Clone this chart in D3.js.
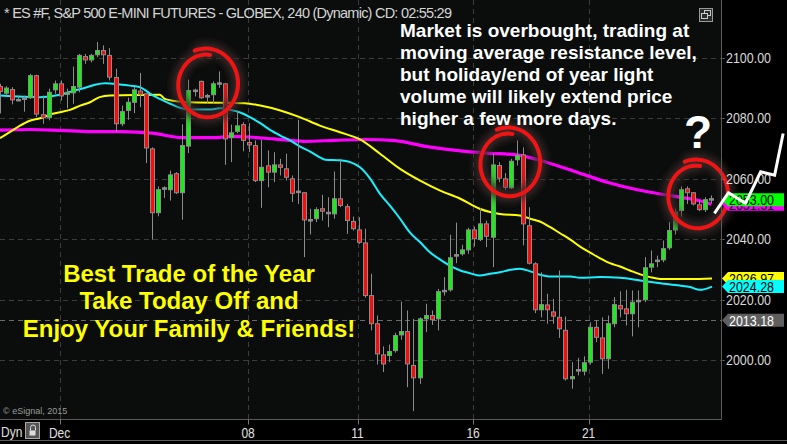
<!DOCTYPE html>
<html><head><meta charset="utf-8">
<script src="https://cdn.jsdelivr.net/npm/d3@7/dist/d3.min.js"></script>
<style>body{margin:0;background:#000;overflow:hidden}svg{display:block}</style>
</head><body><svg id="c" width="787" height="444"></svg>
<script>
// ---------- data ----------
const opens  = [2090.4,2088.2,2089.4,2085.8,2086.3,2086.7,2094.0,2081.1,2080.1,2089.3,2091.3,2087.8,2088.3,2090.2,2100.3,2099.2,2100.9,2102.3,2100.7,2093.4,
2078.1,2082.5,2085.2,2088.9,2088.0,2069.8,2048.7,2056.6,2056.3,2061.6,2055.3,2070.7,2088.9,2092.1,2087.1,2087.7,2091.3,2091.3,2073.5,2075.6,
2077.8,2071.9,2070.9,2059.3,2064.2,2062.1,2064.5,2063.2,2059.9,2055.5,2055.3,2046.1,2046.7,2050.0,2048.5,2048.3,2053.3,2050.7,2045.8,2043.0,
2038.7,2021.3,2012.0,2001.7,2001.5,2003.1,2008.3,2009.4,1998.2,1994.1,2013.6,2014.7,2013.6,2022.7,2023.2,2034.5,2035.1,2036.4,2043.0,2039.8,
2045.0,2040.6,2064.3,2059.9,2056.9,2066.2,2067.8,2044.4,2031.8,2016.6,2018.2,2015.9,2014.1,2009.8,1993.8,1996.5,1996.3,1999.3,2010.8,2007.3,
2000.4,2012.0,2018.0,2016.9,2015.3,2019.4,2019.9,2030.7,2032.7,2033.1,2037.1,2043.0,2049.4,2056.6,2055.3,2051.3,2049.7,2052.75];
const highs  = [2091.3,2090.5,2090.2,2087.4,2087.4,2094.6,2094.3,2087.4,2089.7,2092.4,2092.4,2089.7,2097.0,2101.2,2101.2,2101.2,2105.1,2104.0,2103.1,2096.3,
2084.1,2086.7,2090.2,2094.9,2088.0,2070.3,2057.4,2057.4,2062.6,2062.1,2077.9,2092.7,2089.7,2092.4,2088.0,2092.1,2095.4,2091.6,2077.8,2082.5,
2078.6,2078.3,2072.6,2072.8,2069.3,2068.7,2066.5,2068.2,2061.0,2079.4,2055.5,2050.0,2050.5,2054.6,2053.8,2062.3,2066.5,2051.6,2047.4,2047.2,
2043.4,2028.5,2014.7,2004.5,2005.1,2009.0,2019.3,2016.4,2013.6,2014.1,2018.6,2016.4,2023.5,2027.4,2041.4,2045.4,2038.1,2043.7,2044.1,2050.2,
2046.1,2068.2,2065.4,2061.8,2066.5,2072.6,2070.3,2050.5,2032.3,2029.0,2021.9,2020.2,2029.6,2014.4,1999.3,2000.7,2001.2,2012.5,2013.1,2014.1,
2014.7,2020.8,2022.7,2023.2,2023.0,2023.0,2034.0,2036.2,2034.5,2039.5,2045.6,2050.0,2057.4,2057.4,2055.5,2052.7,2053.8,2054.4];
const lows   = [2081.5,2087.4,2084.5,2085.6,2082.1,2086.3,2080.3,2078.1,2079.2,2088.0,2085.8,2083.2,2084.7,2088.5,2097.9,2098.4,2100.1,2097.9,2092.4,2075.3,
2077.3,2079.4,2081.6,2083.6,2065.1,2039.8,2047.5,2053.6,2052.7,2054.9,2046.4,2068.4,2087.1,2086.3,2084.9,2084.7,2090.0,2064.5,2065.4,2075.0,
2069.0,2068.7,2058.8,2050.3,2057.1,2058.8,2061.0,2059.3,2052.2,2051.6,2034.0,2041.5,2045.6,2046.1,2043.9,2046.7,2050.5,2041.7,2042.8,2038.4,
2020.6,2009.8,1998.5,1996.0,1999.3,2002.4,2006.7,1991.0,1983.1,1992.1,2009.2,2011.6,2009.8,2021.3,2022.6,2032.0,2034.5,2035.1,2037.5,2039.3,
2037.3,2030.7,2058.8,2056.3,2056.6,2064.3,2037.9,2031.6,2015.5,2014.1,2012.0,2012.0,2007.3,1993.2,1990.5,1994.9,1994.9,1998.5,2005.9,1995.4,
1997.1,2010.8,2014.1,2011.4,2007.8,2010.8,2019.1,2029.0,2030.7,2032.3,2036.4,2041.5,2047.4,2051.6,2051.1,2049.2,2048.9,2051.8];
const closes = [2088.8,2089.9,2086.0,2085.8,2086.3,2094.0,2081.3,2080.1,2088.5,2091.3,2087.3,2088.5,2090.4,2100.7,2099.2,2100.7,2102.3,2100.9,2093.5,2078.1,
2082.1,2085.2,2089.3,2087.8,2070.1,2048.7,2056.3,2056.6,2061.2,2055.3,2070.9,2089.1,2088.9,2086.7,2087.1,2091.3,2091.3,2073.1,2075.1,2077.4,
2072.6,2071.1,2059.3,2063.7,2062.1,2064.5,2063.7,2060.4,2055.1,2055.5,2046.3,2046.1,2049.7,2049.2,2048.5,2053.3,2051.1,2046.1,2043.4,2038.9,
2021.3,2012.0,2002.0,1998.7,2002.8,2008.1,2009.4,1998.7,1994.1,2013.6,2014.7,2013.3,2022.6,2022.7,2033.8,2034.5,2036.4,2043.0,2040.1,2045.0,
2040.9,2064.5,2060.1,2057.1,2065.7,2067.6,2045.0,2032.0,2016.6,2018.3,2016.6,2014.5,2010.3,1993.8,1994.5,1996.5,1999.1,2010.8,2007.5,2000.4,
2012.0,2018.3,2016.9,2015.3,2019.1,2019.4,2030.5,2031.8,2032.7,2036.8,2042.8,2048.9,2056.3,2055.3,2051.6,2049.7,2053.0,2053.0];

// moving averages: [bar, price]
const magentaMA = [[0,2076.0],[5,2076.2],[10,2075.9],[15,2075.5],[20,2075.5],[25,2075.0],[30,2073.5],[35,2073.5],[38,2073.9],[40,2073.8],[45,2073.1],[50,2072.3],[55,2072.6],[60,2072.9],[65,2072.5],[70,2070.6],[75,2069.3],[80,2068.4],[85,2067.8],[90,2065.3],[95,2062.0],[100,2058.7],[105,2056.2],[110,2054.4],[115,2052.7],[117,2051.5]];
const yellowMA = [[0,2073.3],[1.6,2075.3],[3.3,2077.5],[4.9,2079.1],[6.6,2079.9],[8.2,2081.1],[9.9,2081.9],[11.5,2082.7],[13.2,2084.1],[14.8,2085.2],[16.4,2086.9],[18.1,2087.4],[26.3,2087.7],[27.1,2086.3],[28.8,2085.6],[31.3,2085.2],[40.3,2084.9],[42.8,2084.1],[46.1,2082.5],[49.3,2080.3],[52.6,2077.5],[55.9,2075.3],[59.2,2072.9],[62.5,2068.2],[65.8,2063.2],[69.1,2059.3],[72.4,2056.0],[75.7,2053.3],[78.9,2050.0],[80.6,2048.9],[82.2,2048.3],[85.5,2047.8],[87.2,2046.7],[88.8,2045.8],[90.5,2043.9],[92.1,2041.9],[93.8,2039.8],[95.4,2037.5],[97.0,2035.6],[98.7,2033.6],[100.3,2032.0],[102.0,2030.9],[103.6,2029.6],[105.3,2028.3],[106.9,2027.4],[108.6,2026.8],[113.5,2026.8],[117.1,2026.97]];
const cyanMA = [[0,2087.4],[6.6,2086.9],[9.9,2087.7],[12.3,2089.1],[14.0,2090.0],[15.6,2091.0],[17.3,2091.5],[19.7,2091.1],[21.4,2090.7],[23.0,2090.2],[23.8,2089.3],[24.7,2088.0],[26.3,2086.3],[28.0,2084.7],[29.6,2083.4],[31.3,2082.8],[34.5,2082.8],[36.2,2083.2],[37.8,2082.7],[39.5,2081.8],[41.1,2080.3],[42.8,2078.3],[44.4,2076.1],[46.1,2074.2],[47.7,2072.6],[49.3,2070.6],[51.0,2068.9],[52.6,2067.0],[53.5,2066.2],[55.9,2066.0],[57.6,2065.4],[59.2,2063.7],[60.9,2059.9],[62.5,2054.9],[64.1,2051.1],[65.8,2046.7],[67.4,2042.2],[69.1,2038.9],[70.7,2035.6],[72.4,2033.2],[74.0,2031.2],[75.7,2029.6],[77.3,2028.7],[78.9,2027.9],[80.6,2028.5],[82.2,2029.0],[83.9,2029.8],[85.5,2030.2],[87.2,2029.3],[88.8,2028.2],[90.5,2027.6],[93.8,2027.6],[95.4,2027.2],[98.7,2027.4],[102.0,2027.2],[105.3,2026.3],[108.6,2025.4],[111.8,2024.6],[113.5,2024.1],[115.1,2023.2],[117.1,2024.28]];

const priceTicks = [2000,2020,2040,2060,2080,2100];
const dayStartBars = [10,41,59,78,97];
const dayLabels = ["Dec","08","11","16","21"];
const refLine = 2013.18;
const tagValues = [2051.51,2053.00,2026.97,2024.28,2013.18];
const tagColors = ["#ff00ff","#00ff00","#ffff00","#00ffff","#5f5f5f"];
const tagText   = ["#000","#000","#000","#000","#fff"];
const title = "* ES #F, S&P 500 E-MINI FUTURES - GLOBEX, 240 (Dynamic) CD: 02:55:29";
const noteLines = ["Market is overbought, trading at","moving average resistance level,","but holiday/end of year light","volume will likely extend price","higher a few more days."];
const bestLines = ["Best Trade of the Year","Take Today Off and","Enjoy Your Family & Friends!"];
// hand-drawn circles: [centre bar, centre price]
const circleCentres = [[34.0,2091.1],[83.7,2065.0],[114.6,2054.4]];
// hand-drawn forecast arrow: [bar, price]
const arrowPts = [[117.5,2048.5],[119.8,2055.3],[122.6,2051.8],[125.1,2062.2],[127.4,2061.1],[128.8,2074.9]];

// ---------- layout ----------
const W = 787, H = 444, plotR = 721.5, plotB = 419.5;
const svg = d3.select("#c");
const x = d3.scaleLinear().domain([0,117]).range([0,711.4]);
const y = d3.scaleLinear().domain([2000,2100]).range([360,57.5]);
function narrow(sel, k){ sel.each(function(){ const L=this.getComputedTextLength(); d3.select(this).attr("textLength",L*k).attr("lengthAdjust","spacingAndGlyphs"); }); }

svg.append("rect").attr("width",W).attr("height",H).attr("fill","#000");
svg.append("rect").attr("width",plotR).attr("height",plotB).attr("fill","#0a0d0b");

const defs = svg.append("defs");
defs.append("clipPath").attr("id","clip").append("rect").attr("width",plotR).attr("height",plotB);
const f = defs.append("filter").attr("id","glow").attr("x","-50%").attr("y","-50%").attr("width","200%").attr("height","200%");
f.append("feGaussianBlur").attr("stdDeviation",4);

const plot = svg.append("g").attr("clip-path","url(#clip)");

// grid
plot.selectAll(".hg").data(priceTicks).join("line")
  .attr("x1",0).attr("x2",plotR).attr("y1",d=>Math.round(y(d))+0.5).attr("y2",d=>Math.round(y(d))+0.5)
  .attr("stroke","#3c3c3c").attr("stroke-dasharray","5,4");
plot.selectAll(".vg").data(dayStartBars).join("line")
  .attr("y1",0).attr("y2",plotB).attr("x1",d=>Math.round(x(d-0.2))+0.5).attr("x2",d=>Math.round(x(d-0.2))+0.5)
  .attr("stroke","#3c3c3c").attr("stroke-dasharray","5,4");
plot.append("line").attr("x1",0).attr("x2",plotR).attr("y1",Math.round(y(refLine))+0.5).attr("y2",Math.round(y(refLine))+0.5)
  .attr("stroke","#6a6a6a").attr("stroke-dasharray","5,4");

// moving averages
const ln = d3.line().x(d=>x(d[0])).y(d=>y(d[1])).curve(d3.curveMonotoneX);
plot.append("path").attr("d",ln(magentaMA)).attr("fill","none").attr("stroke","#ff00ff").attr("stroke-width",3.2);
plot.append("path").attr("d",ln(yellowMA)).attr("fill","none").attr("stroke","#ffff00").attr("stroke-width",2);
plot.append("path").attr("d",ln(cyanMA)).attr("fill","none").attr("stroke","#19f0ff").attr("stroke-width",2);

// candles
const bars = opens.map((o,i)=>({i,o,h:highs[i],l:lows[i],c:closes[i]}));
const cg = plot.selectAll(".cd").data(bars).join("g");
cg.append("line").attr("x1",d=>Math.round(x(d.i))+0.5).attr("x2",d=>Math.round(x(d.i))+0.5)
  .attr("y1",d=>y(d.h)).attr("y2",d=>y(d.l)).attr("stroke","#8c8c8c").attr("stroke-width",1);
cg.append("rect")
  .attr("x",d=>Math.round(x(d.i))-1.5).attr("width",4)
  .attr("y",d=>Math.abs(d.c-d.o)<0.3 ? y(d.c)-1 : y(Math.max(d.o,d.c)))
  .attr("height",d=>Math.abs(d.c-d.o)<0.3 ? 1.5 : Math.max(1.5, y(Math.min(d.o,d.c))-y(Math.max(d.o,d.c))))
  .attr("fill",d=>Math.abs(d.c-d.o)<0.3 ? "#8c8c8c" : (d.c>d.o ? "#14f014" : "#f80c0c"))
  .attr("stroke","#8c8c8c").attr("stroke-width",1);

// hand drawn circles
function spiral(cx, cy){
  const pts=[]; const rx=30, ry=33;
  const a0=-Math.PI*0.62, a1=a0+Math.PI*2*1.08;
  for(let k=0;k<=80;k++){
    const t=k/80, a=a0+(a1-a0)*t, s=1.1-0.2*t;
    pts.push([cx+rx*s*Math.cos(a), cy+ry*s*Math.sin(a)]);
  }
  return d3.line().curve(d3.curveBasis)(pts);
}
const circ = svg.append("g");
circleCentres.forEach(cc=>{
  const dpath = spiral(x(cc[0]), y(cc[1]));
  circ.append("path").attr("d",dpath).attr("fill","none").attr("stroke","#3a2a2a").attr("stroke-width",11).attr("filter","url(#glow)");
  circ.append("path").attr("d",dpath).attr("fill","none").attr("stroke","#f01414").attr("stroke-width",4).attr("stroke-linecap","round");
});

// frame
svg.append("line").attr("x1",plotR).attr("x2",plotR).attr("y1",0).attr("y2",plotB).attr("stroke","#5a5a5a");
svg.append("line").attr("x1",0).attr("x2",plotR).attr("y1",plotB).attr("y2",plotB).attr("stroke","#5a5a5a");
svg.append("line").attr("x1",0).attr("x2",W).attr("y1",440.5).attr("y2",440.5).attr("stroke","#5a5a5a");

// right axis
const ax = svg.append("g").attr("font-family","'Liberation Sans',Arial,sans-serif").attr("font-size",15);
ax.selectAll(".gd").data(priceTicks).join("line")
  .attr("x1",plotR+1).attr("x2",726).attr("y1",d=>Math.round(y(d))+0.5).attr("y2",d=>Math.round(y(d))+0.5).attr("stroke","#777").attr("stroke-dasharray","2,2");
ax.selectAll(".tl").data(priceTicks).join("text")
  .attr("x",726).attr("y",d=>y(d)).attr("dy","0.36em").attr("fill","#d9d9d9").text(d=>d.toFixed(2))
  .call(narrow,0.83);
// price tags
tagValues.forEach((v,k)=>{
  const cy=y(v), h=13;
  ax.append("path").attr("d",`M722,${cy} L728,${cy-h/2} L784,${cy-h/2} L784,${cy+h/2} L728,${cy+h/2} Z`).attr("fill",tagColors[k]);
  ax.append("text").attr("x",729).attr("y",cy).attr("dy","0.36em").attr("fill",tagText[k]).text(v.toFixed(2)).call(narrow,0.83);
});

// bottom axis
const bx = svg.append("g").attr("font-family","'Liberation Sans',Arial,sans-serif").attr("font-size",15);
bx.selectAll(".bt").data(dayStartBars).join("line")
  .attr("x1",d=>Math.round(x(d-0.2))+0.5).attr("x2",d=>Math.round(x(d-0.2))+0.5).attr("y1",plotB).attr("y2",plotB+5).attr("stroke","#777");
bx.selectAll(".bl").data(dayStartBars).join("text")
  .attr("x",(d,k)=>x(d-0.2)).attr("y",438).attr("text-anchor","middle").attr("fill","#e0e0e0").text((d,k)=>dayLabels[k])
  .call(narrow,0.8);
bx.append("text").attr("x",1).attr("y",437).attr("fill","#e0e0e0").text("Dyn").call(narrow,0.8);
bx.append("rect").attr("x",25.5).attr("y",422.5).attr("width",14).attr("height",16).attr("fill","#555").attr("stroke","#aaa");
bx.append("rect").attr("x",29.5).attr("y",430.5).attr("width",6).attr("height",5).attr("fill","#ddd");
bx.append("path").attr("d","M30.5,430.5 v-3 a2.5,2.5 0 0 1 5,0 v3").attr("fill","none").attr("stroke","#ddd");

svg.append("text").attr("x",3).attr("y",414).attr("font-family","'Liberation Sans',sans-serif").attr("font-size",9).attr("fill","#9a9a9a").text("© eSignal, 2015");

// title & icon
svg.append("text").attr("x",4).attr("y",18).attr("font-family","'Liberation Sans',Arial,sans-serif").attr("font-size",14.5)
  .attr("fill","#d5d5d5").attr("textLength",448).attr("lengthAdjust","spacing").text(title);
svg.append("rect").attr("x",699.5).attr("y",8.5).attr("width",13).attr("height",13).attr("fill","#2a2a2a").attr("stroke","#999");
svg.append("rect").attr("x",704.5).attr("y",10.5).attr("width",6).attr("height",5).attr("fill","none").attr("stroke","#ccc");
svg.append("rect").attr("x",701.5).attr("y",13.5).attr("width",6).attr("height",5).attr("fill","#2a2a2a").attr("stroke","#ccc");

// annotation texts
svg.append("g").attr("font-family","'Liberation Sans',Arial,sans-serif").attr("font-weight","bold").attr("font-size",19).attr("fill","#fff")
  .selectAll("text").data(noteLines).join("text").attr("x",400).attr("y",(d,k)=>37+k*22).text(d=>d);
svg.append("g").attr("font-family","'Liberation Sans',Arial,sans-serif").attr("font-weight","bold").attr("font-size",24).attr("fill","#ffff00").attr("text-anchor","middle")
  .selectAll("text").data(bestLines).join("text").attr("x",189).attr("y",(d,k)=>[281.5,308.5,336.5][k]).text(d=>d);

// forecast arrow and question mark
svg.append("path").attr("d",d3.line().x(d=>x(d[0])).y(d=>y(d[1]))(arrowPts)).attr("fill","none").attr("stroke","#fff").attr("stroke-width",3).attr("stroke-linejoin","miter");
svg.append("text").attr("x",698).attr("y",148).attr("text-anchor","middle").attr("font-family","'Liberation Sans',Arial,sans-serif").attr("font-weight","bold").attr("font-size",46).attr("fill","#fff").text("?");
</script></body></html>
